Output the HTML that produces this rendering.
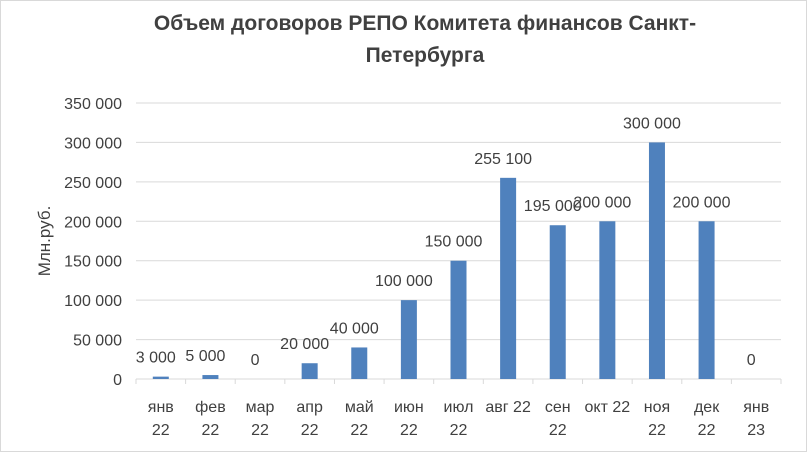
<!DOCTYPE html>
<html><head><meta charset="utf-8"><style>
body{margin:0;background:#fff}
svg{display:block;font-family:"Liberation Sans",sans-serif}
</style></head><body>
<svg id="c" width="807" height="452">
<rect x="0.5" y="0.5" width="806" height="451" fill="#fff" stroke="#d9d9d9"/>
<text x="425" y="30" text-anchor="middle" font-size="21" font-weight="bold" fill="#404040">Объем договоров  РЕПО Комитета финансов Санкт-</text>
<text x="425" y="62" text-anchor="middle" font-size="21" font-weight="bold" fill="#404040">Петербурга</text>
<text transform="translate(50,241) rotate(-90)" text-anchor="middle" font-size="17" fill="#404040">Млн.руб.</text>
</svg>
<script>
const categories=[["янв","22"],["фев","22"],["мар","22"],["апр","22"],["май","22"],["июн","22"],["июл","22"],["авг 22",""],["сен","22"],["окт 22",""],["ноя","22"],["дек","22"],["янв","23"]];
const values=[3000,5000,0,20000,40000,100000,150000,255100,195000,200000,300000,200000,0];
const valueLabels=["3 000","5 000","0","20 000","40 000","100 000","150 000","255 100","195 000","200 000","300 000","200 000","0"];
const yTicks=[0,50000,100000,150000,200000,250000,300000,350000];
const yTickLabels=["0","50 000","100 000","150 000","200 000","250 000","300 000","350 000"];
const svg=document.getElementById('c');const NS='http://www.w3.org/2000/svg';
const L=136,R=781,Y0=379,Ytop=103,yMax=350000;
const cw=(R-L)/categories.length;
const y=v=>Y0-(v/yMax)*(Y0-Ytop);
const x=i=>L+cw*(i+0.5);
function mk(t,a){const e=document.createElementNS(NS,t);for(const k in a)e.setAttribute(k,a[k]);svg.appendChild(e);return e;}
yTicks.forEach((t,i)=>{
 if(t>0){const g=mk('line',{x1:L,x2:R,y1:y(t),y2:y(t),stroke:'#d9d9d9'});
 
 }
 const tx=mk('text',{x:122,y:y(t)+6,'text-anchor':'end','font-size':16,fill:'#404040'});
 tx.textContent=yTickLabels[i];
 
 
});
const ax=mk('line',{x1:L,x2:R,y1:Y0,y2:Y0,stroke:'#d9d9d9'});


for(let i=0;i<=categories.length;i++){
 const tk=mk('line',{x1:L+cw*i,x2:L+cw*i,y1:Y0,y2:Y0+5,stroke:'#d9d9d9'});
 
 
}
values.forEach((v,i)=>{
 const b=mk('rect',{x:x(i)-8,y:y(v),width:16,height:Y0-y(v),fill:'#4f81bd'});
 
 
 const t=mk('text',{x:x(i)-5,y:y(v)-14,'text-anchor':'middle','font-size':16,fill:'#404040'});
 t.textContent=valueLabels[i];
 
 
 const c=categories[i];
 const a=mk('text',{x:x(i),y:412,'text-anchor':'middle','font-size':16,fill:'#404040'});
 a.textContent=c[0];
 
 
 if(c[1]){const b2=mk('text',{x:x(i),y:435,'text-anchor':'middle','font-size':16,fill:'#404040'});
 b2.textContent=c[1];
 
 }
});
</script>
</body></html>
